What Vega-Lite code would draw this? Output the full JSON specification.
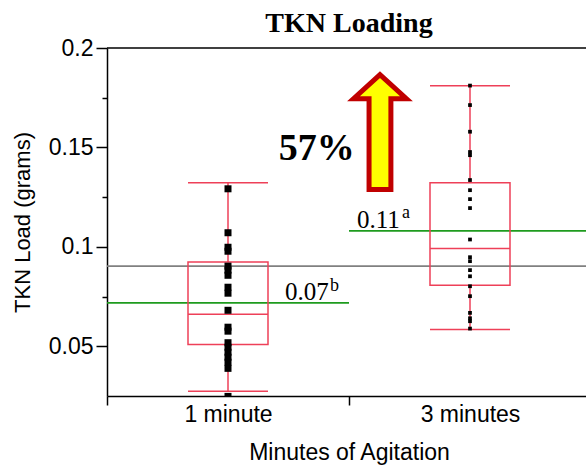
{
  "$schema": "https://vega.github.io/schema/vega-lite/v6.json",
  "width": 479,
  "height": 348,
  "autosize": {"type": "none"},
  "padding": {"left": 107, "top": 48, "right": 0, "bottom": 70},
  "config": {
    "view": {"stroke": null},
    "axis": {"domainColor": "black", "tickColor": "black", "labelColor": "black", "titleColor": "black", "labelFont": "Liberation Sans", "titleFont": "Liberation Sans", "titleFontWeight": "normal", "grid": false}
  },
  "datasets": {
    "points": [
      {"group": "1 minute", "tkn": 0.1292},
      {"group": "1 minute", "tkn": 0.1071},
      {"group": "1 minute", "tkn": 0.0998},
      {"group": "1 minute", "tkn": 0.0978},
      {"group": "1 minute", "tkn": 0.0903},
      {"group": "1 minute", "tkn": 0.0883},
      {"group": "1 minute", "tkn": 0.0857},
      {"group": "1 minute", "tkn": 0.0797},
      {"group": "1 minute", "tkn": 0.0767},
      {"group": "1 minute", "tkn": 0.0681},
      {"group": "1 minute", "tkn": 0.0596},
      {"group": "1 minute", "tkn": 0.0576},
      {"group": "1 minute", "tkn": 0.0518},
      {"group": "1 minute", "tkn": 0.0495},
      {"group": "1 minute", "tkn": 0.047},
      {"group": "1 minute", "tkn": 0.0445},
      {"group": "1 minute", "tkn": 0.042},
      {"group": "1 minute", "tkn": 0.0389},
      {"group": "1 minute", "tkn": 0.0248},
      {"group": "3 minutes", "tkn": 0.1811},
      {"group": "3 minutes", "tkn": 0.1713},
      {"group": "3 minutes", "tkn": 0.1579},
      {"group": "3 minutes", "tkn": 0.1477},
      {"group": "3 minutes", "tkn": 0.1461},
      {"group": "3 minutes", "tkn": 0.1336},
      {"group": "3 minutes", "tkn": 0.1285},
      {"group": "3 minutes", "tkn": 0.124},
      {"group": "3 minutes", "tkn": 0.1195},
      {"group": "3 minutes", "tkn": 0.1037},
      {"group": "3 minutes", "tkn": 0.0948},
      {"group": "3 minutes", "tkn": 0.0928},
      {"group": "3 minutes", "tkn": 0.0883},
      {"group": "3 minutes", "tkn": 0.0852},
      {"group": "3 minutes", "tkn": 0.0802},
      {"group": "3 minutes", "tkn": 0.0752},
      {"group": "3 minutes", "tkn": 0.0668},
      {"group": "3 minutes", "tkn": 0.0641},
      {"group": "3 minutes", "tkn": 0.0626},
      {"group": "3 minutes", "tkn": 0.0589}
    ],
    "boxes": [
      {"group": "1 minute", "lo": 0.0274, "q1": 0.0509, "med": 0.0661, "q3": 0.0924, "hi": 0.1322},
      {"group": "3 minutes", "lo": 0.0584, "q1": 0.0807, "med": 0.0992, "q3": 0.1322, "hi": 0.181}
    ],
    "means": [
      {"kind": "overall", "from": 0, "to": 2, "mean": 0.0903},
      {"kind": "group", "from": 0, "to": 1, "mean": 0.0718},
      {"kind": "group", "from": 1, "to": 2, "mean": 0.108}
    ],
    "labels": [
      {"kind": "main", "text": "0.07", "pos": 0.7355, "val": 0.0732},
      {"kind": "sup", "text": "b", "pos": 0.9215, "val": 0.0777},
      {"kind": "main", "text": "0.11", "pos": 1.033, "val": 0.1095},
      {"kind": "sup", "text": "a", "pos": 1.219, "val": 0.1144},
      {"kind": "pct", "text": "57%", "pos": 0.8665, "val": 0.1436},
      {"kind": "title", "text": "TKN Loading", "pos": 1.0, "val": 0.2081}
    ],
    "arrow": [
      {"pos": 1.128, "val": 0.1577}
    ]
  },
  "resolve": {"scale": {"x": "independent"}},
  "layer": [
    {
      "data": {"name": "means"},
      "mark": {"type": "rule", "strokeWidth": 1.7},
      "encoding": {
        "x": {"field": "from", "type": "quantitative", "scale": {"domain": [0, 2], "range": [0, 484], "nice": false, "zero": false}, "axis": null},
        "x2": {"field": "to"},
        "y": {"field": "mean", "type": "quantitative", "scale": {"domain": [0.025, 0.2], "nice": false, "zero": false}},
        "color": {"field": "kind", "type": "nominal", "scale": {"domain": ["group", "overall"], "range": ["#1E9B1E", "#808080"]}, "legend": null}
      }
    },
    {
      "data": {"values": [{}]},
      "mark": {"type": "rule", "color": "black", "strokeWidth": 1.5},
      "encoding": {"y": {"datum": 0.2, "type": "quantitative"}}
    },
    {
      "data": {"name": "boxes"},
      "mark": {"type": "rule", "color": "#EE4058", "strokeWidth": 1.5},
      "encoding": {
        "x": {"field": "group", "type": "nominal", "scale": {"type": "band", "domain": ["1 minute", "3 minutes"], "range": [0, 484], "paddingInner": 0, "paddingOuter": 0}, "axis": null},
        "y": {"field": "lo", "type": "quantitative"},
        "y2": {"field": "q1"}
      }
    },
    {
      "data": {"name": "boxes"},
      "mark": {"type": "rule", "color": "#EE4058", "strokeWidth": 1.5},
      "encoding": {
        "x": {"field": "group", "type": "nominal", "scale": {"type": "band", "domain": ["1 minute", "3 minutes"], "range": [0, 484], "paddingInner": 0, "paddingOuter": 0}, "axis": null},
        "y": {"field": "q3", "type": "quantitative"},
        "y2": {"field": "hi"}
      }
    },
    {
      "data": {"name": "boxes"},
      "mark": {"type": "bar", "size": 80, "filled": false, "color": "#EE4058", "strokeWidth": 1.5},
      "encoding": {
        "x": {
          "field": "group", "type": "nominal",
          "scale": {"type": "band", "domain": ["1 minute", "3 minutes"], "range": [0, 484], "paddingInner": 0, "paddingOuter": 0},
          "axis": {"title": "Minutes of Agitation", "labelAngle": 0, "labelFontSize": 23, "titleFontSize": 23, "tickBand": "extent", "tickSize": 9, "tickWidth": 1.5, "domainWidth": 1.5, "labelPadding": -2, "titlePadding": 15}
        },
        "y": {
          "field": "q1", "type": "quantitative",
          "scale": {"domain": [0.025, 0.2], "nice": false, "zero": false},
          "axis": {
            "title": "TKN Load (grams)",
            "values": [0.05, 0.075, 0.1, 0.125, 0.15, 0.175, 0.2],
            "format": "~g",
            "labelExpr": "abs(datum.value*20 - round(datum.value*20)) < 0.001 ? datum.label : ''",
            "tickSize": {"condition": {"test": "abs(datum.value*20 - round(datum.value*20)) < 0.001", "value": 11}, "value": 5},
            "labelFontSize": 23, "titleFontSize": 22, "domainWidth": 1.5, "tickWidth": 1.5, "labelPadding": 3, "titlePadding": 14
          }
        },
        "y2": {"field": "q3"}
      }
    },
    {
      "data": {"name": "boxes"},
      "transform": [{"fold": ["lo", "med", "hi"], "as": ["stat", "v"]}],
      "mark": {"type": "tick", "orient": "horizontal", "size": 80, "thickness": 1.5, "color": "#EE4058", "opacity": 1},
      "encoding": {
        "x": {"field": "group", "type": "nominal", "scale": {"type": "band", "domain": ["1 minute", "3 minutes"], "range": [0, 484], "paddingInner": 0, "paddingOuter": 0}, "axis": null},
        "y": {"field": "v", "type": "quantitative"}
      }
    },
    {
      "data": {"name": "points"},
      "mark": {"type": "point", "shape": "square", "filled": true, "color": "black", "opacity": 1, "clip": true},
      "encoding": {
        "x": {"field": "group", "type": "nominal", "scale": {"type": "band", "domain": ["1 minute", "3 minutes"], "range": [0, 484], "paddingInner": 0, "paddingOuter": 0}, "axis": null},
        "y": {"field": "tkn", "type": "quantitative"},
        "size": {"field": "group", "type": "nominal", "scale": {"domain": ["1 minute", "3 minutes"], "range": [49, 14]}, "legend": null}
      }
    },
    {
      "data": {"name": "labels"},
      "transform": [{"filter": "datum.kind == 'main'"}],
      "mark": {"type": "text", "font": "Liberation Serif", "fontSize": 25, "align": "left", "baseline": "alphabetic", "color": "black"},
      "encoding": {
        "x": {"field": "pos", "type": "quantitative", "scale": {"domain": [0, 2], "range": [0, 484], "nice": false, "zero": false}, "axis": null},
        "y": {"field": "val", "type": "quantitative"},
        "text": {"field": "text"}
      }
    },
    {
      "data": {"name": "labels"},
      "transform": [{"filter": "datum.kind == 'sup'"}],
      "mark": {"type": "text", "font": "Liberation Serif", "fontSize": 18, "align": "left", "baseline": "alphabetic", "color": "black"},
      "encoding": {
        "x": {"field": "pos", "type": "quantitative", "scale": {"domain": [0, 2], "range": [0, 484], "nice": false, "zero": false}, "axis": null},
        "y": {"field": "val", "type": "quantitative"},
        "text": {"field": "text"}
      }
    },
    {
      "data": {"name": "labels"},
      "transform": [{"filter": "datum.kind == 'pct'"}],
      "mark": {"type": "text", "font": "Liberation Serif", "fontSize": 38, "fontWeight": "bold", "align": "center", "baseline": "alphabetic", "color": "black"},
      "encoding": {
        "x": {"field": "pos", "type": "quantitative", "scale": {"domain": [0, 2], "range": [0, 484], "nice": false, "zero": false}, "axis": null},
        "y": {"field": "val", "type": "quantitative"},
        "text": {"field": "text"}
      }
    },
    {
      "data": {"name": "labels"},
      "transform": [{"filter": "datum.kind == 'title'"}],
      "mark": {"type": "text", "font": "Liberation Serif", "fontSize": 28, "fontWeight": "bold", "align": "center", "baseline": "alphabetic", "color": "black"},
      "encoding": {
        "x": {"field": "pos", "type": "quantitative", "scale": {"domain": [0, 2], "range": [0, 484], "nice": false, "zero": false}, "axis": null},
        "y": {"field": "val", "type": "quantitative"},
        "text": {"field": "text"}
      }
    },
    {
      "data": {"name": "arrow"},
      "mark": {"type": "point", "shape": "M -0.19 1 L 0.19 1 L 0.19 -0.58 L 0.46 -0.58 L 0 -1 L -0.46 -0.58 L -0.19 -0.58 Z", "size": 13225, "filled": true, "fill": "#FFFF00", "stroke": "#C00000", "strokeWidth": 5, "opacity": 1, "fillOpacity": 1, "strokeOpacity": 1, "strokeJoin": "miter"},
      "encoding": {
        "x": {"field": "pos", "type": "quantitative", "scale": {"domain": [0, 2], "range": [0, 484], "nice": false, "zero": false}, "axis": null},
        "y": {"field": "val", "type": "quantitative"}
      }
    }
  ]
}
